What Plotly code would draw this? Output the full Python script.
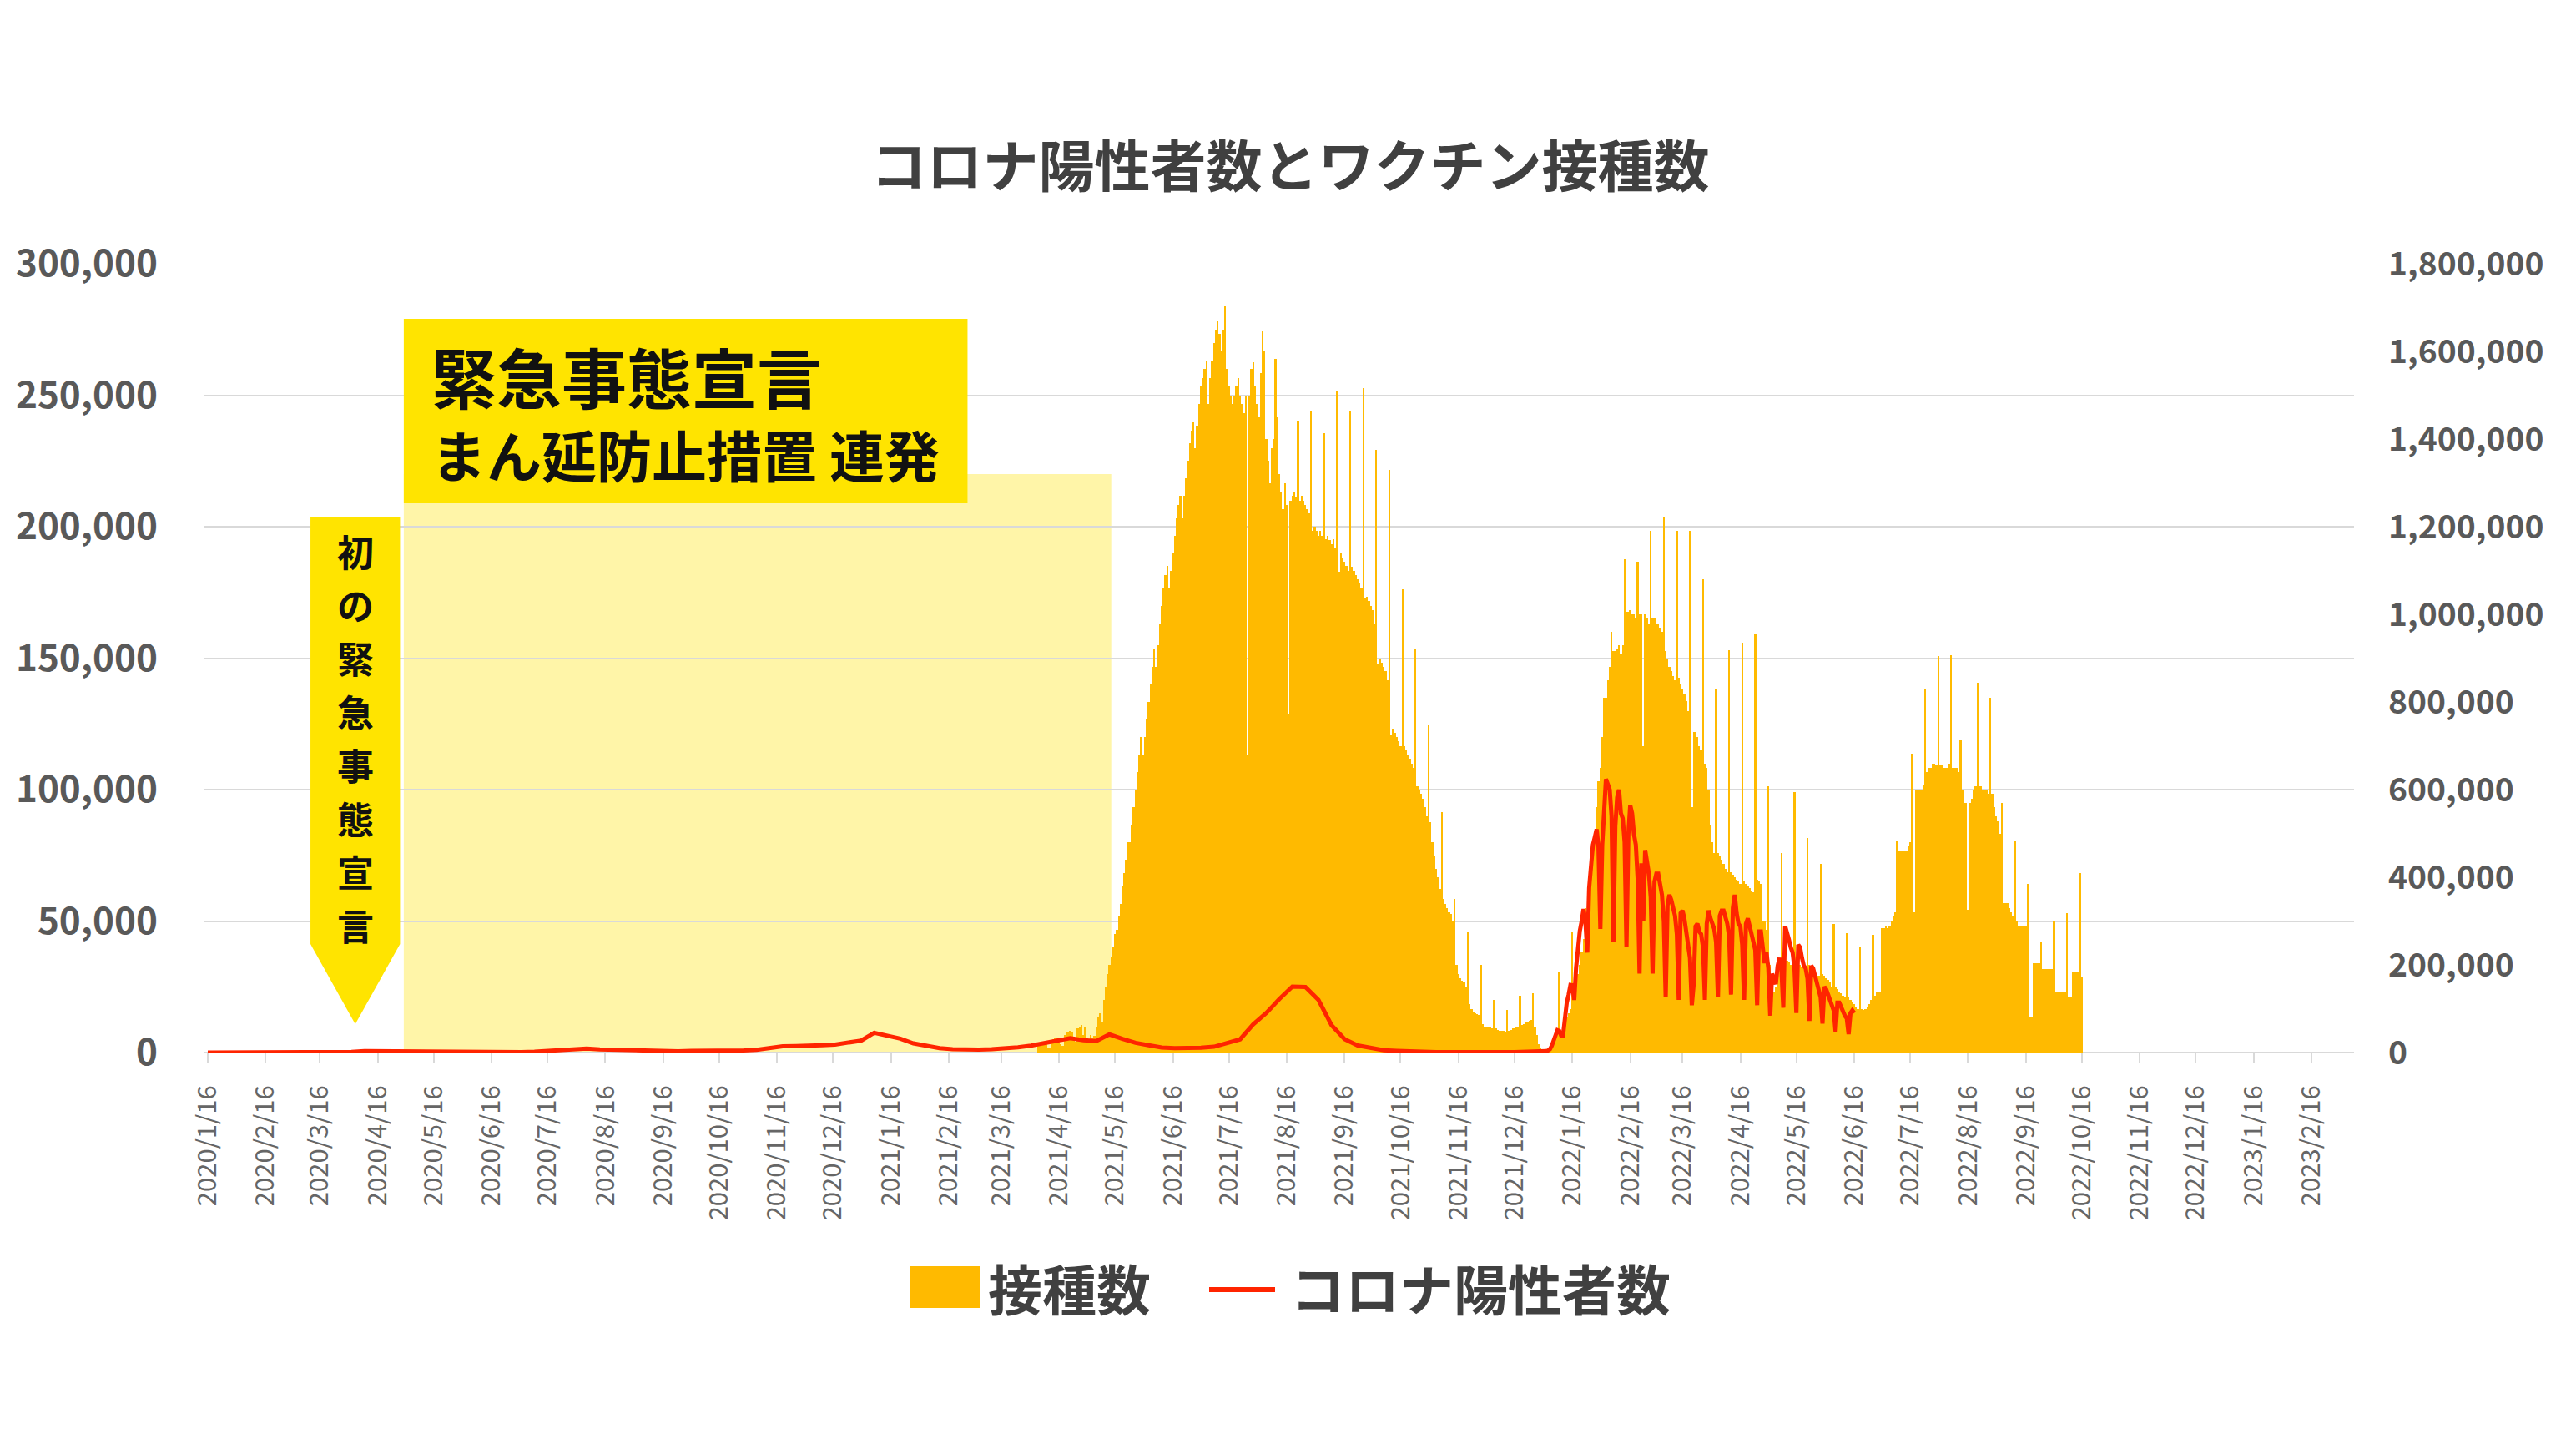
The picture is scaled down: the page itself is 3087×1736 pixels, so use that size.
import pandas as pd
import plotly.graph_objects as go

# ---------------- text ----------------
TITLE = "コロナ陽性者数とワクチン接種数"
BAR_NAME = "接種数"
LINE_NAME = "コロナ陽性者数"
BOX_LINE1 = "緊急事態宣言"
BOX_LINE2 = "まん延防止措置 連発"
ARROW_TEXT = "初の緊急事態宣言"

# ---------------- axes ----------------
X_TICK_LABELS = [
    "2020/1/16", "2020/2/16", "2020/3/16", "2020/4/16", "2020/5/16", "2020/6/16",
    "2020/7/16", "2020/8/16", "2020/9/16", "2020/10/16", "2020/11/16", "2020/12/16",
    "2021/1/16", "2021/2/16", "2021/3/16", "2021/4/16", "2021/5/16", "2021/6/16",
    "2021/7/16", "2021/8/16", "2021/9/16", "2021/10/16", "2021/11/16", "2021/12/16",
    "2022/1/16", "2022/2/16", "2022/3/16", "2022/4/16", "2022/5/16", "2022/6/16",
    "2022/7/16", "2022/8/16", "2022/9/16", "2022/10/16", "2022/11/16", "2022/12/16",
    "2023/1/16", "2023/2/16",
]
LEFT_TICKS = [0, 50000, 100000, 150000, 200000, 250000, 300000]
RIGHT_TICKS = [0, 200000, 400000, 600000, 800000, 1000000, 1200000, 1400000, 1600000, 1800000]

# ---------------- vaccinations (daily, thousands), rows = Mon..Sun ----------------
VAX_START = "2021-04-05"
VAX_WEEKS_K = [
    [15, 18, 20, 22, 20, 12, 10],
    [25, 30, 32, 35, 33, 20, 15],
    [40, 45, 48, 50, 48, 30, 25],
    [55, 60, 62, 40, 58, 35, 30],
    [40, 35, 38, 60, 80, 90, 70],
    [120, 150, 180, 200, 220, 240, 270],
    [280, 310, 340, 380, 410, 440, 480],
    [480, 520, 560, 600, 640, 680, 720],
    [680, 720, 760, 800, 840, 880, 920],
    [880, 930, 980, 1020, 1060, 1090, 1110],
    [1060, 1100, 1140, 1180, 1220, 1250, 1270],
    [1220, 1270, 1310, 1350, 1390, 1420, 1440],
    [1380, 1430, 1480, 1520, 1540, 1560, 1580],
    [1480, 1540, 1580, 1620, 1650, 1668, 1640],
    [1600, 1650, 1703, 1560, 1520, 1500, 1480],
    [1500, 1520, 1540, 1500, 1480, 1460, 1500],
    [678, 1500, 1560, 1575, 1520, 1480, 1450],
    [1550, 1646, 1600, 1400, 1350, 1300, 1380],
    [1400, 1582, 1450, 1320, 1280, 1240, 1300],
    [1250, 771, 1260, 1270, 1280, 1267, 1441],
    [1260, 1270, 1260, 1250, 1240, 1230, 1462],
    [1190, 1200, 1190, 1180, 1190, 1180, 1413],
    [1172, 1180, 1170, 1160, 1172, 1150, 1511],
    [1097, 1140, 1130, 1120, 1110, 1100, 1465],
    [1108, 1100, 1090, 1080, 1070, 1060, 1517],
    [1038, 1040, 1030, 1020, 1010, 980, 1376],
    [887, 900, 890, 880, 870, 850, 1330],
    [724, 740, 730, 720, 710, 700, 1057],
    [700, 690, 680, 670, 660, 650, 922],
    [607, 600, 590, 580, 560, 540, 747],
    [525, 480, 450, 420, 400, 373, 549],
    [350, 340, 330, 320, 316, 300, 350],
    [200, 180, 170, 164, 160, 150, 274],
    [110, 100, 94, 90, 88, 85, 200],
    [65, 60, 59, 58, 57, 56, 120],
    [55, 52, 50, 50, 50, 48, 97],
    [50, 52, 55, 56, 58, 60, 130],
    [62, 65, 68, 70, 72, 75, 135],
    [60, 40, 20, 10, 5, 3, 2],
    [5, 10, 20, 35, 45, 50, 182],
    [50, 60, 70, 80, 90, 100, 275],
    [140, 160, 180, 200, 230, 260, 330],
    [300, 350, 400, 450, 500, 560, 620],
    [650, 720, 810, 810, 850, 880, 960],
    [917, 917, 920, 930, 910, 930, 1126],
    [1006, 1006, 1010, 1000, 1000, 990, 1120],
    [1000, 1000, 700, 1000, 990, 980, 1191],
    [990, 990, 980, 980, 970, 960, 1222],
    [917, 900, 880, 870, 860, 850, 1191],
    [855, 840, 830, 820, 802, 780, 1191],
    [560, 731, 731, 720, 700, 690, 1080],
    [660, 650, 600, 520, 480, 456, 829],
    [456, 450, 440, 430, 420, 412, 918],
    [412, 405, 400, 395, 390, 385, 936],
    [390, 385, 380, 375, 370, 365, 954],
    [394, 390, 385, 300, 300, 280, 607],
    [200, 150, 140, 150, 200, 210, 456],
    [220, 215, 210, 205, 200, 195, 595],
    [210, 205, 200, 195, 190, 185, 489],
    [200, 195, 190, 185, 180, 175, 431],
    [180, 175, 170, 165, 160, 150, 294],
    [150, 145, 140, 135, 130, 125, 272],
    [125, 120, 115, 110, 105, 100, 241],
    [100, 98, 100, 105, 110, 120, 269],
    [130, 140, 140, 140, 283, 283, 290],
    [283, 290, 300, 310, 320, 484, 459],
    [459, 459, 459, 460, 470, 480, 681],
    [320, 599, 599, 600, 600, 610, 828],
    [640, 650, 650, 660, 660, 656, 904],
    [656, 656, 650, 650, 650, 660, 907],
    [650, 650, 650, 640, 714, 600, 570],
    [570, 326, 570, 580, 600, 607, 843],
    [607, 607, 600, 600, 600, 590, 810],
    [590, 560, 540, 528, 500, 570, 341],
    [341, 341, 330, 320, 310, 484, 300],
    [290, 290, 290, 290, 290, 384, 82],
    [82, 204, 204, 204, 204, 254, 190],
    [190, 190, 190, 190, 190, 300, 140],
    [140, 140, 140, 140, 140, 318, 127],
    [127, 182, 182, 182, 182, 409, 171],
]

# ---------------- positive cases ----------------
CASES_WEEKLY_START = "2020-01-16"   # one value every 7 days
CASES_WEEKLY = [
    0, 0, 3, 5, 10, 15, 20, 30, 50, 40, 100, 230, 580, 550, 430, 170, 100, 55, 30, 40,
    40, 40, 50, 100, 190, 350, 620, 980, 1300, 1480, 1170, 1040, 840, 590, 640, 560, 480,
    630, 600, 640, 640, 800, 1050, 1660, 2390, 2500, 2500, 2810, 3050, 3740, 4520,
    7500, 6600, 5300, 3500, 2600, 1700, 1300, 1100, 1100, 1300, 1500, 2000,
    2600, 3400, 4500, 5500, 4700, 4400, 6900, 5200, 3700, 2800, 1900, 1700, 1700,
    1800, 2200, 3400, 5000, 10700, 15000, 20300, 25100, 24900, 20000, 10400, 5100, 2700, 1600,
    870, 620, 350, 280, 170, 190, 130, 120, 130, 160, 170, 300,
]
CASES_DAILY_START = "2021-12-27"    # daily, rows = Mon..Sun
CASES_DAILY_WEEKS = [
    [250, 380, 400, 480, 500, 530, 550],
    [780, 1260, 2600, 4500, 6200, 8500, 8200],
    [6400, 6400, 13200, 18900, 22000, 25700, 25600],
    [20000, 32200, 41500, 46200, 49900, 54600, 50000],
    [38000, 62600, 71600, 78900, 81800, 84900, 78000],
    [47000, 79000, 94000, 104000, 102000, 100000, 90000],
    [42000, 86000, 97000, 100000, 91000, 89000, 80000],
    [40000, 83000, 94000, 91000, 83000, 79000, 66000],
    [30000, 72000, 50000, 77000, 72000, 68000, 59000],
    [30000, 65000, 68000, 68000, 63000, 60000, 50000],
    [21000, 56000, 60000, 58000, 55000, 52000, 45000],
    [20000, 53000, 54000, 51000, 46000, 43000, 36000],
    [18000, 26000, 48000, 49000, 46000, 45000, 40000],
    [20000, 49000, 54000, 51000, 49000, 47000, 42000],
    [21000, 52000, 54000, 54000, 51000, 49000, 44000],
    [22000, 55000, 60000, 53000, 49000, 48000, 41000],
    [20000, 49000, 51000, 48000, 45000, 43000, 39000],
    [18000, 46000, 46000, 41000, 34000, 38000, 32000],
    [14000, 30000, 28000, 26000, 33000, 36000, 32000],
    [17000, 48000, 46000, 43000, 40000, 38000, 32000],
    [15000, 41000, 40000, 36000, 33000, 32000, 28000],
    [12000, 33000, 32000, 29000, 26000, 24000, 21000],
    [11000, 25000, 24000, 22000, 19000, 18000, 16000],
    [8000, 19000, 19000, 17000, 15000, 14000, 13000],
    [7000, 15000, 16000, 15000],
]

# ---------------- annotation periods ----------------
PERIOD_START = "2020-04-30"
PERIOD_END = "2021-05-14"
PERIOD_TOP = 220000          # left-axis value
BOX_END = "2021-02-26"
ARROW_LEFT, ARROW_RIGHT, ARROW_TIP = "2020-03-11", "2020-04-28", "2020-04-04"

# ---------------- colours ----------------
BAR_COLOR = "#FFBA00"
LINE_COLOR = "#FF2400"
PALE_COLOR = "#FFF5A8"
BOX_COLOR = "#FFE400"
TEXT_GRAY = "#595959"
TICK_GRAY = "#666666"
TITLE_GRAY = "#404040"
GRID = "#D9D9D9"
FONT = "Noto Sans CJK JP, Noto Sans, sans-serif"

# ---------------- build series ----------------
vax_values = [v * 1000 for row in VAX_WEEKS_K for v in row]
vax_dates = pd.date_range(VAX_START, periods=len(vax_values), freq="D")

daily_cases = [v for row in CASES_DAILY_WEEKS for v in row]
case_dates = list(pd.date_range(CASES_WEEKLY_START, periods=len(CASES_WEEKLY), freq="7D")) + \
    list(pd.date_range(CASES_DAILY_START, periods=len(daily_cases), freq="D"))
case_values = CASES_WEEKLY + daily_cases

tick_vals = [pd.Timestamp(s) for s in X_TICK_LABELS]

# geometry (targets are page pixels; the page body adds an 8px offset)
W, H = 3087, 1736
OFF = 8
P_LEFT, P_RIGHT, P_TOP, P_BOTTOM = 245, 2821, 316, 1261
ML, MR, MT, MB = P_LEFT - OFF, W - (P_RIGHT - OFF), P_TOP - OFF, H - (P_BOTTOM - OFF)
first_tick = pd.Timestamp(X_TICK_LABELS[0])
px_per_day = 2.237
x_range = [first_tick - pd.Timedelta(days=(249 - P_LEFT) / px_per_day),
           first_tick + pd.Timedelta(days=(P_RIGHT - 249) / px_per_day)]
plot_w = P_RIGHT - P_LEFT
plot_h = P_BOTTOM - P_TOP


def py(val):       # left-axis value -> paper y
    return val / LEFT_TICKS[-1]


def fy(ypix):      # page pixel row -> paper y
    return (P_BOTTOM - ypix) / plot_h


def fx(xpix):      # page pixel column -> paper x
    return (xpix - P_LEFT) / plot_w


def ms(d):
    return pd.Timestamp(d).value // 10**6


fig = go.Figure()
fig.add_trace(go.Bar(x=vax_dates, y=vax_values, name=BAR_NAME, marker=dict(color=BAR_COLOR, line=dict(width=0)),
                     yaxis="y", showlegend=False))
fig.add_trace(go.Scatter(x=case_dates, y=case_values, name=LINE_NAME, mode="lines",
                         line=dict(color=LINE_COLOR, width=5), yaxis="y2", showlegend=False))

shapes = [
    dict(type="rect", xref="x", yref="paper", x0=PERIOD_START, x1=PERIOD_END, y0=0, y1=py(PERIOD_TOP),
         fillcolor=PALE_COLOR, line=dict(width=0), layer="below"),
    dict(type="rect", xref="x", yref="paper", x0=PERIOD_START, x1=BOX_END, y0=fy(603), y1=fy(382),
         fillcolor=BOX_COLOR, line=dict(width=0), layer="above"),
]
xa, xb, xc = ms(ARROW_LEFT), ms(ARROW_RIGHT), ms(ARROW_TIP)
yt, ym, yp = fy(620), fy(1131), fy(1227)
shapes.append(dict(type="path", xref="x", yref="paper",
                   path=f"M {xa},{yt} L {xb},{yt} L {xb},{ym} L {xc},{yp} L {xa},{ym} Z",
                   fillcolor=BOX_COLOR, line=dict(width=0), layer="above"))
# custom legend marks
shapes.append(dict(type="rect", xref="paper", yref="paper", x0=fx(1091), x1=fx(1174), y0=fy(1567), y1=fy(1517),
                   fillcolor=BAR_COLOR, line=dict(width=0)))
shapes.append(dict(type="line", xref="paper", yref="paper", x0=fx(1449), x1=fx(1528), y0=fy(1545), y1=fy(1545),
                   line=dict(color=LINE_COLOR, width=6)))

annotations = [
    dict(text=BOX_LINE1, xref="x", yref="paper", x="2020-05-14", y=fy(450), xanchor="left", yanchor="middle",
         showarrow=False, font=dict(family=FONT, size=78, color="#111111", weight="bold")),
    dict(text=BOX_LINE2, xref="x", yref="paper", x="2020-05-14", y=fy(543), xanchor="left", yanchor="middle",
         showarrow=False, font=dict(family=FONT, size=66, color="#111111", weight="bold")),
    dict(text=BAR_NAME, xref="paper", yref="paper", x=fx(1182), y=fy(1542), xanchor="left", yanchor="middle",
         showarrow=False, font=dict(family=FONT, size=65, color=TITLE_GRAY, weight="bold")),
    dict(text=LINE_NAME, xref="paper", yref="paper", x=fx(1545), y=fy(1542), xanchor="left", yanchor="middle",
         showarrow=False, font=dict(family=FONT, size=65, color=TITLE_GRAY, weight="bold")),
]
# vertical text: one character per annotation, stacked without overlapping boxes
n = len(ARROW_TEXT)
pitch = 64
centre = 884
for i, ch in enumerate(ARROW_TEXT):
    ypix = centre + (i - (n - 1) / 2) * pitch
    annotations.append(dict(text=ch, xref="x", yref="paper", x=ARROW_TIP, y=fy(ypix), xanchor="center",
                            yanchor="middle", showarrow=False, borderpad=0,
                            font=dict(family=FONT, size=44, color="#111111", weight="bold")))

fig.update_layout(
    width=W, height=H,
    margin=dict(l=ML, r=MR, t=MT, b=MB, autoexpand=False),
    paper_bgcolor="white", plot_bgcolor="white",
    bargap=0,
    title=dict(text=TITLE, x=fx(1546), xref="paper", xanchor="center", y=1 - (201 - OFF) / H, yref="container",
               yanchor="middle", font=dict(family=FONT, size=67, color=TITLE_GRAY, weight="bold")),
    xaxis=dict(type="date", range=x_range, tickvals=tick_vals, ticktext=X_TICK_LABELS, tickangle=-90,
               tickfont=dict(family=FONT, size=31, color=TICK_GRAY), showgrid=False, zeroline=False,
               ticks="outside", ticklen=12, tickcolor=GRID, tickwidth=2, showline=False, ticklabelstandoff=14),
    yaxis=dict(side="right", range=[0, RIGHT_TICKS[-1]], tickvals=RIGHT_TICKS, tickformat=",",
               showgrid=False, zeroline=False, ticklabelstandoff=40,
               tickfont=dict(family=FONT, size=39, color=TEXT_GRAY, weight="bold")),
    yaxis2=dict(side="left", overlaying="y", range=[0, LEFT_TICKS[-1]], tickvals=LEFT_TICKS, tickformat=",",
                showgrid=True, gridcolor=GRID, gridwidth=2, zeroline=True, zerolinecolor=GRID, zerolinewidth=2,
                ticklabelstandoff=55, tickfont=dict(family=FONT, size=44, color=TEXT_GRAY, weight="bold")),
    shapes=shapes,
    annotations=annotations,
)

fig.write_html("out.html")
